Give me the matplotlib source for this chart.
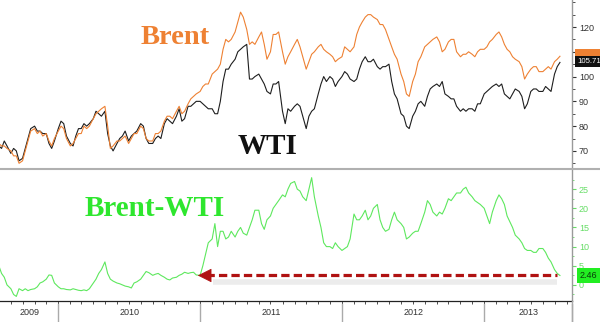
import numpy as np
import pandas as pd
import matplotlib
matplotlib.use('Agg')
import matplotlib.pyplot as plt
import matplotlib.dates as mdates
import matplotlib.transforms as mtransforms
from matplotlib.lines import Line2D
from matplotlib.patches import Rectangle

''' Data (weekly readings, Aug 2009 - mid Jul 2013) '''
months = pd.date_range('2009-08-01', '2013-07-01', freq='MS')
dates = [m + pd.Timedelta(days=d) for m in months for d in (0, 7, 14, 21)][:191]

brent = [73, 72, 72, 71, 70, 68, 68, 65, 66, 70, 74, 78, 79, 77, 78, 76, 77, 74, 72, 75,
         78, 80, 79, 75, 72, 73, 75, 77, 77, 80, 79, 80, 83, 85, 86, 87, 88, 80, 71, 72,
         74, 74, 75, 76, 73, 75, 77, 77, 80, 79, 75, 74, 74, 77, 77, 78, 82, 84, 84, 83,
         86, 88, 85, 86, 89, 91, 92, 93,
         94, 96, 97, 97, 101, 102, 103, 105, 111, 115, 114, 115, 118, 122, 126, 124,
         119, 113, 114, 113, 116, 118, 113, 107, 110, 117, 117, 118, 110, 105, 108, 110,
         113, 115, 112, 108, 103, 106, 109, 110, 112, 113, 111, 110, 109, 108, 106, 107,
         108, 112, 111, 110, 112, 117, 120, 122, 124, 125, 125, 124, 123, 121, 121, 119,
         115, 112, 109, 107, 101, 98, 93, 92, 98, 101, 106, 108, 112, 113, 114, 115,
         116, 114, 110, 111, 114, 115, 115, 110, 108, 109, 109, 110, 109, 108, 110, 111,
         111, 112, 114, 115, 117, 118, 116, 113, 111, 110, 108, 107, 106, 104, 99, 101,
         103, 104, 104, 102, 102, 103, 104, 103, 106, 107, 108.2]

wti = [72, 71, 74, 72, 69, 71, 70, 66, 67, 71, 75, 79, 80, 78, 78, 77, 77, 73, 71, 74,
       79, 82, 81, 76, 73, 72, 76, 79, 79, 81, 80, 81, 83, 86, 85, 84, 86, 77, 72, 70,
       73, 75, 76, 78, 74, 76, 77, 78, 81, 80, 75, 73, 73, 75, 76, 75, 81, 83, 82, 81,
       84, 87, 82, 83, 88, 88, 89, 90,
       90, 89, 88, 87, 87, 85, 85, 90, 98, 103, 103, 105, 107, 110, 111, 112,
       113, 99, 99, 100, 101, 99, 97, 94, 93, 97, 97, 98, 86, 81, 87, 86,
       88, 89, 88, 84, 79, 84, 86, 87, 93, 97, 100, 98, 100, 99, 96, 98,
       100, 102, 101, 99, 98, 99, 103, 106, 108, 106, 106, 107, 104, 103, 104, 104,
       105, 98, 93, 91, 85, 84, 80, 79, 84, 86, 89, 90, 88, 92, 95, 96,
       97, 96, 98, 93, 92, 91, 91, 88, 86, 87, 86, 87, 87, 86, 89, 89,
       93, 94, 95, 96, 97, 96, 97, 93, 92, 91, 93, 95, 94, 92, 87, 89,
       94, 95, 95, 94, 94, 96, 95, 94, 101, 104, 105.71]

spread = [5, 3, 2, 0, -1, -2.5, -3, -1, -1.5, -1, -1.5, -1.2, -1, -0.5, 0.5, 0.8,
          1.5, 2.6, 2.5, 0.5,
          -0.5, -1, -1, -1.2, -1.3, -1, -1.2, -1.4, -1.5, -1.3, -1.5, -1, 0.5, 1.5, 3, 4,
          6, 3, 1.5, 1, 0.5, 0.3, 0, -0.3, -0.5, -0.8, 0.5, 0.8, 1.5, 2.5, 3.5, 3.2,
          2.5, 2.8, 3, 2.5, 2, 1.5, 1.3, 1.8, 2, 2.5, 2.8, 3.3, 3, 3.2, 3.3, 2.6,
          2.5, 5, 8, 11, 12, 16, 10, 14, 14, 12, 12.5, 14, 12.5, 14, 15, 13.5,
          13, 15, 17, 19.5, 19.5, 16, 14.5, 17, 18, 20, 21, 22, 23.5, 23, 25, 26.5,
          27, 25, 24.5, 23, 22, 25, 28, 23, 18, 15, 11, 10, 10, 9.5, 11, 10,
          9, 9.5, 10, 12, 18.5, 17, 17, 18, 19.5, 17, 18, 20, 21, 17, 15, 14,
          14.5, 17, 19, 17, 16, 15, 12, 12.5, 13.5, 14, 14, 16, 19, 22, 21, 19,
          18, 19, 18.5, 20, 22.5, 22, 23, 24, 24, 25, 25.5, 24, 23, 22, 21.5, 21,
          20, 18, 16, 19, 22, 23.5, 22.5, 21, 18, 16.5, 15, 13, 12, 11, 9.5, 9,
          9, 8.5, 8.5, 9.5, 9.5, 8.5, 7, 6, 4, 3, 2.46]

years = ['2009', '2010', '2011', '2012', '2013']
year_starts = pd.to_datetime(['2010-01-01', '2011-01-01', '2012-01-01', '2013-01-01'])

''' Style '''
c_brent = '#ee8133'
c_wti = '#1e1e1e'
c_spread = '#5ee85e'
c_text_green = '#2ee62e'
serif = ['Liberation Serif', 'DejaVu Serif']
plt.rcParams['font.family'] = ['Liberation Sans', 'DejaVu Sans']

W, H = 600, 322
fig = plt.figure(figsize=(6, 3.22), dpi=100)
ax1 = fig.add_axes([0, 154 / H, 572 / W, 168 / H])
ax2 = fig.add_axes([0, 21 / H, 572 / W, 131 / H])

xlim = (pd.Timestamp('2009-08-04'), pd.Timestamp('2013-08-15'))

for ax in (ax1, ax2):
    ax.set_xlim(*xlim)
    for s in ('top', 'left'):
        ax.spines[s].set_visible(False)
    ax.spines['right'].set_color('#9a9a9a')
    ax.spines['right'].set_linewidth(1.0)
    ax.yaxis.tick_right()
    ax.tick_params(axis='y', which='both', direction='out', pad=2, labelsize=6.5)

''' Top panel '''
ax1.plot(dates, wti, color=c_wti, lw=0.8)
ax1.plot(dates, brent, color=c_brent, lw=0.8)
ax1.set_ylim(63.1, 130.9)
ax1.set_yticks(np.arange(70, 121, 10))
ax1.set_yticks(np.arange(65, 131, 5), minor=True)
ax1.tick_params(axis='y', which='major', length=3, colors='#333333')
ax1.tick_params(axis='y', which='minor', length=2, colors='#333333')
ax1.spines['bottom'].set_visible(False)
ax1.set_xticks([])

# last value tags (Brent tag mostly hidden behind the WTI one)
tr1 = mtransforms.blended_transform_factory(ax1.transAxes, ax1.transData)
ax1.add_patch(Rectangle((1.006, 107.4), 0.06, 3.6, transform=tr1, fc=c_brent, ec='none',
                        clip_on=False, zorder=5))
ax1.text(1.009, 106.2, '%.2f' % wti[-1], transform=tr1, fontsize=5.6, color='white',
         va='center', ha='left', zorder=6,
         bbox=dict(boxstyle='square,pad=0.25', fc='#111111', ec='none'), clip_on=False)

''' Bottom panel '''
ax2.plot(dates, spread, color=c_spread, lw=0.8)
ax2.set_ylim(-4.2, 30.0)
ax2.set_yticks(np.arange(0, 26, 5))
ax2.set_yticks(np.arange(-2.5, 30, 2.5), minor=True)
ax2.tick_params(axis='y', which='major', length=3, colors='#66dd66')
ax2.tick_params(axis='y', which='minor', length=1.5, colors='#66dd66')
ax2.spines['bottom'].set_color('#222222')
ax2.spines['bottom'].set_linewidth(0.9)
ax2.xaxis.set_major_locator(mdates.YearLocator())
ax2.xaxis.set_minor_locator(mdates.MonthLocator())
ax2.tick_params(axis='x', which='both', direction='out', length=2.5, width=0.6,
                colors='#333333', labelbottom=False)

tr2 = mtransforms.blended_transform_factory(ax2.transAxes, ax2.transData)
ax2.text(1.014, spread[-1], '%.2f' % spread[-1], transform=tr2, fontsize=6.5, color='#0a3a0a',
         va='center', ha='left', zorder=6,
         bbox=dict(boxstyle='square,pad=0.3', fc='#22ee22', ec='none'), clip_on=False)

# year labels and separators below the axis
trx = mtransforms.blended_transform_factory(ax2.transData, ax2.transAxes)
bounds = [mdates.date2num(xlim[0])] + list(mdates.date2num(year_starts)) + [mdates.date2num(xlim[1])]
for i, yr in enumerate(years):
    mid = (bounds[i] + bounds[i + 1]) / 2
    ax2.text(mid, -0.085, yr, transform=trx, fontsize=6.5, color='#333333',
             ha='center', va='center')
for b in bounds[1:]:
    ax2.add_line(Line2D([b, b], [-0.02, -0.17], transform=trx, color='#aaaaaa',
                        lw=1.0, clip_on=False))

# red dashed arrow back to end of 2010
tip = mdates.date2num(pd.Timestamp('2010-12-26'))
tail = mdates.date2num(pd.Timestamp('2013-07-08'))
lvl = spread[-1]
ax2.plot([tip + 40, tail], [lvl - 1.8, lvl - 1.8], color='#999999', alpha=0.18, lw=4,
         solid_capstyle='butt')
ax2.plot([tip + 20, tail], [lvl, lvl], color='#b01212', lw=2.3,
         ls=(0, (2.6, 1.3)), dash_capstyle='butt')
ax2.annotate('', xy=(tip, lvl), xytext=(tip + 30, lvl),
             arrowprops=dict(arrowstyle='-|>,head_length=0.9,head_width=0.45',
                             color='#b01212', lw=0.5, shrinkA=0, shrinkB=0))

''' Frame lines '''
fig.add_artist(Line2D([0, 1], [1 - 168.5 / H, 1 - 168.5 / H], transform=fig.transFigure,
                      color='#b0b0b0', lw=1.5))
fig.add_artist(Line2D([572 / W, 572 / W], [0, 21 / H], transform=fig.transFigure,
                      color='#aaaaaa', lw=1.0))

''' Labels '''
fig.text(175 / W, 1 - 38 / H, 'Brent', family=serif, fontweight='bold', fontsize=20.5,
         color=c_brent, ha='center', va='center')
fig.text(268 / W, 1 - 146 / H, 'WTI', family=serif, fontweight='bold', fontsize=21,
         color='#111111', ha='center', va='center')
fig.text(155 / W, 1 - 208 / H, 'Brent-WTI', family=serif, fontweight='bold', fontsize=21,
         color=c_text_green, ha='center', va='center')

fig.savefig('out.png', dpi=100)
